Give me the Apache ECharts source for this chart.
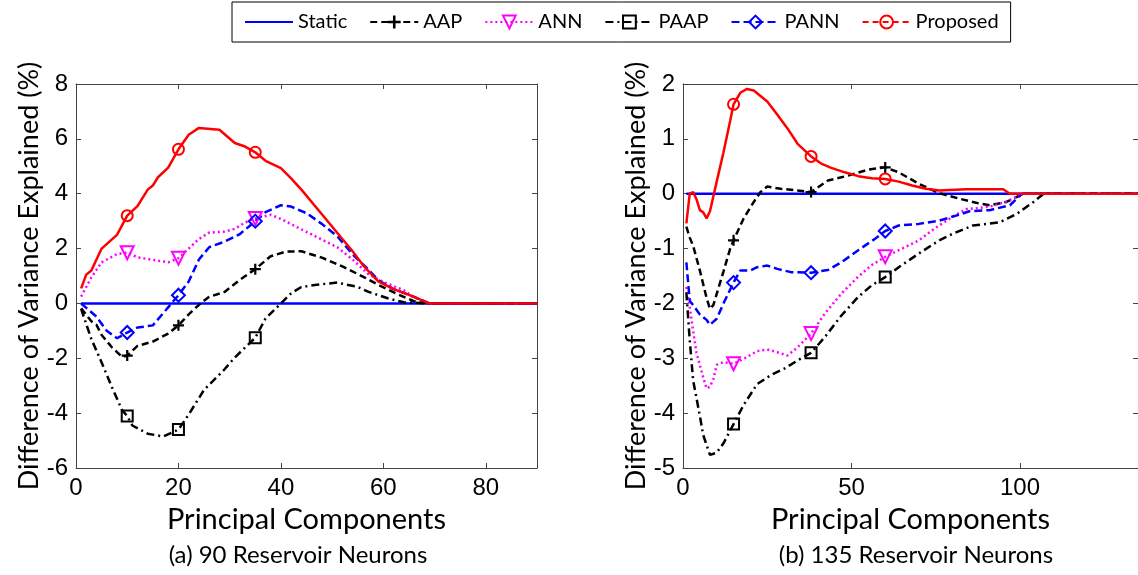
<!DOCTYPE html>
<html>
<head>
<meta charset="utf-8">
<script src="https://cdn.jsdelivr.net/npm/echarts@6/dist/echarts.min.js"></script>
<style>
html, body { margin: 0; background: #fff; }
#chart { width: 1138px; height: 575px; }
</style>
</head>
<body>
<div id="chart"></div>
<script>
// legend / series names
const seriesNames = ['Static', 'AAP', 'ANN', 'PAAP', 'PANN', 'Proposed'];

// x positions that carry a marker
const markX90 = [10, 20, 35];
const markX135 = [15, 38, 60];

// (a) 90 reservoir neurons: [principal component, difference %]
const static90 = [[1, 0], [90, 0]];
const aap90 = [[1, -0.18], [3, -0.65], [4, -0.78], [5, -1.15], [7, -1.6], [9, -1.95], [10, -1.9], [12, -1.55], [15, -1.39], [18, -1.1], [20, -0.8], [22, -0.4], [24, -0.05], [26, 0.24], [29, 0.42], [32, 0.86], [35, 1.25], [38, 1.72], [41, 1.89], [44, 1.9], [48, 1.67], [52, 1.35], [56, 0.98], [59, 0.68], [63, 0.32], [66, 0.08], [69, 0], [90, 0]];
const ann90 = [[1, 0.25], [3, 0.95], [5, 1.5], [8, 1.8], [10, 1.85], [12, 1.68], [14, 1.62], [18, 1.5], [20, 1.65], [22, 2.0], [24, 2.35], [26, 2.58], [29, 2.62], [31, 2.72], [33, 2.95], [35, 3.1], [38, 3.23], [40, 3.08], [44, 2.7], [48, 2.33], [51, 2.05], [54, 1.6], [57, 1.08], [60, 0.78], [64, 0.48], [66, 0.22], [69, 0], [90, 0]];
const paap90 = [[1, -0.2], [3, -1.3], [5, -2.15], [7, -3.05], [9, -3.9], [10, -4.1], [11, -4.45], [14, -4.75], [17, -4.85], [20, -4.6], [22, -4.05], [25, -3.15], [29, -2.4], [31, -1.97], [35, -1.25], [37, -0.55], [40, 0], [42, 0.37], [44, 0.6], [47, 0.68], [51, 0.76], [55, 0.6], [57, 0.43], [61, 0.18], [64, 0.04], [69, 0], [90, 0]];
const pann90 = [[1, 0], [4, -0.48], [6, -1.0], [8, -1.27], [10, -1.06], [12, -0.88], [15, -0.8], [17, -0.36], [20, 0.3], [22, 0.8], [24, 1.6], [26, 2.05], [29, 2.25], [32, 2.53], [35, 3.0], [37, 3.33], [40, 3.58], [42, 3.53], [45, 3.29], [48, 2.9], [51, 2.45], [54, 1.79], [57, 1.25], [59, 0.85], [62, 0.52], [66, 0.24], [69, 0], [90, 0]];
const proposed90 = [[1, 0.55], [2, 1.05], [3, 1.2], [5, 2.0], [8, 2.5], [10, 3.2], [12, 3.55], [14, 4.15], [15, 4.3], [16, 4.6], [18, 4.95], [20, 5.62], [22, 6.15], [24, 6.4], [28, 6.33], [31, 5.85], [33, 5.72], [35, 5.51], [37, 5.2], [40, 4.93], [42, 4.56], [44, 4.15], [48, 3.25], [52, 2.35], [54, 1.9], [56, 1.4], [59, 0.8], [62, 0.52], [65, 0.31], [69, 0], [90, 0]];

// (b) 135 reservoir neurons
const static135 = [[1, 0], [135, 0]];
const aap135 = [[1, -0.6], [2, -0.8], [3, -0.95], [5, -1.4], [7, -1.9], [8, -2.1], [9, -2.03], [12, -1.42], [14, -1.0], [15, -0.85], [18, -0.45], [21, -0.15], [23, 0.03], [25, 0.13], [29, 0.09], [34, 0.06], [38, 0.03], [43, 0.24], [49, 0.33], [55, 0.44], [60, 0.48], [64, 0.39], [70, 0.18], [76, 0.01], [82, -0.09], [88, -0.18], [91, -0.21], [96, -0.15], [100, -0.03], [101, 0], [135, 0]];
const ann135 = [[1, -1.7], [2, -2.07], [3, -2.5], [4, -2.9], [6, -3.35], [7, -3.55], [8, -3.52], [9, -3.38], [10, -3.12], [12, -3.07], [15, -3.1], [18, -3.01], [22, -2.87], [25, -2.84], [28, -2.89], [31, -2.95], [34, -2.8], [38, -2.55], [42, -2.19], [47, -1.82], [52, -1.51], [56, -1.3], [60, -1.15], [64, -1.03], [70, -0.85], [75, -0.62], [80, -0.42], [84, -0.28], [88, -0.26], [92, -0.22], [96, -0.14], [100, -0.03], [101, 0], [135, 0]];
const paap135 = [[1, -1.8], [2, -2.67], [3, -3.4], [5, -4.05], [6, -4.4], [8, -4.76], [10, -4.72], [12, -4.55], [15, -4.2], [18, -3.85], [22, -3.47], [26, -3.31], [30, -3.19], [34, -3.04], [38, -2.9], [42, -2.62], [47, -2.22], [52, -1.88], [56, -1.67], [60, -1.52], [64, -1.34], [70, -1.09], [76, -0.85], [80, -0.73], [86, -0.58], [94, -0.52], [99, -0.37], [104, -0.15], [107, 0], [135, 0]];
const pann135 = [[1, -1.25], [2, -1.95], [3, -2.03], [5, -2.2], [7, -2.3], [8, -2.39], [10, -2.28], [12, -2.0], [15, -1.62], [17, -1.4], [20, -1.4], [22, -1.34], [25, -1.31], [28, -1.37], [32, -1.43], [38, -1.44], [43, -1.39], [47, -1.25], [52, -1.03], [57, -0.82], [60, -0.68], [64, -0.58], [70, -0.55], [76, -0.49], [81, -0.4], [85, -0.32], [91, -0.3], [97, -0.21], [100, -0.03], [101, 0], [135, 0]];
const proposed135 = [[1, -0.54], [2, 0.0], [3, 0.03], [4, -0.1], [5, -0.3], [6, -0.34], [7, -0.45], [8, -0.32], [9, -0.05], [10, 0.22], [12, 0.75], [14, 1.33], [15, 1.63], [17, 1.84], [19, 1.91], [21, 1.88], [25, 1.68], [28, 1.44], [31, 1.19], [34, 0.91], [38, 0.68], [41, 0.55], [44, 0.47], [48, 0.39], [52, 0.32], [56, 0.28], [60, 0.27], [64, 0.22], [68, 0.15], [72, 0.09], [76, 0.06], [84, 0.08], [95, 0.08], [97, 0], [135, 0]];

const titles = ['(a) 90 Reservoir Neurons', '(b) 135 Reservoir Neurons'];

const calibri = 'Lato, "Noto Sans", sans-serif';
const arial = '"Liberation Sans", Arial, sans-serif';
const frameColor = '#444';
const plus = 'path://M4,0H6V4H10V6H6V10H4V6H0V4H4Z';

// look of each series, matlab style
const looks = {
    Static: { color: '#0000ff', type: 'solid', symbol: 'none', size: 0 },
    AAP: { color: '#000000', type: [7, 4], symbol: plus, size: 11, fill: '#000000' },
    ANN: { color: '#ff00ff', type: [2, 3], symbol: 'triangle', size: 13, rotate: 180 },
    PAAP: { color: '#000000', type: [8, 4, 2, 4], symbol: 'rect', size: 11 },
    PANN: { color: '#0000ff', type: [8, 4], symbol: 'diamond', size: 13 },
    Proposed: { color: '#ff0000', type: 'solid', symbol: 'circle', size: 11 }
};

function makeSeries(name, data, axisIdx, marks) {
    const lk = looks[name];
    return {
        name,
        type: 'line',
        xAxisIndex: axisIdx,
        yAxisIndex: axisIdx,
        data,
        symbol: lk.symbol,
        symbolRotate: lk.rotate || 0,
        symbolSize: val => (marks.indexOf(val[0]) >= 0 ? lk.size : 0),
        showSymbol: lk.symbol !== 'none',
        animation: false,
        lineStyle: { color: lk.color, width: 2.5, type: lk.type },
        itemStyle: {
            color: lk.fill || 'rgba(0,0,0,0)',
            borderColor: lk.color,
            borderWidth: lk.fill ? 0 : 2
        },
        emphasis: { disabled: true }
    };
}

function xAxes(gridIdx, max, interval) {
    return [
        {
            gridIndex: gridIdx, type: 'value', min: 0, max, interval, position: 'bottom',
            name: 'Principal Components', nameLocation: 'middle', nameGap: 33,
            nameTextStyle: { fontFamily: calibri, fontSize: 29, color: '#000' },
            axisLine: { onZero: false, lineStyle: { color: frameColor, width: 1 } },
            axisTick: { inside: true, length: 5, lineStyle: { color: frameColor } },
            axisLabel: { fontFamily: arial, fontSize: 24, color: '#000', margin: 8, showMaxLabel: false },
            splitLine: { show: false }
        },
        {
            gridIndex: gridIdx, type: 'value', min: 0, max, interval, position: 'top',
            axisLine: { onZero: false, lineStyle: { color: frameColor, width: 1 } },
            axisTick: { inside: true, length: 5, lineStyle: { color: frameColor } },
            axisLabel: { show: false },
            splitLine: { show: false }
        }
    ];
}

function yAxes(gridIdx, min, max, interval, gap) {
    return [
        {
            gridIndex: gridIdx, type: 'value', min, max, interval, position: 'left',
            name: 'Difference of Variance Explained (%)', nameLocation: 'middle', nameGap: gap,
            nameTextStyle: { fontFamily: calibri, fontSize: 27, color: '#000' },
            axisLine: { show: true, onZero: false, lineStyle: { color: frameColor, width: 1 } },
            axisTick: { show: true, inside: true, length: 5, lineStyle: { color: frameColor } },
            axisLabel: { fontFamily: arial, fontSize: 24, color: '#000', margin: 8 },
            splitLine: { show: false }
        },
        {
            gridIndex: gridIdx, type: 'value', min, max, interval, position: 'right',
            axisLine: { show: true, onZero: false, lineStyle: { color: frameColor, width: 1 } },
            axisTick: { show: true, inside: true, length: 5, lineStyle: { color: frameColor } },
            axisLabel: { show: false },
            splitLine: { show: false }
        }
    ];
}

const data90 = [static90, aap90, ann90, paap90, pann90, proposed90];
const data135 = [static135, aap135, ann135, paap135, pann135, proposed135];

const series = [];
seriesNames.forEach((n, i) => series.push(makeSeries(n, data90[i], 0, markX90)));
seriesNames.forEach((n, i) => series.push(makeSeries(n, data135[i], 2, markX135)));

const legendItems = seriesNames.map(n => {
    if (n === 'Static') return { name: n, itemStyle: { color: 'rgba(0,0,0,0)', borderWidth: 0, opacity: 0 } };
    if (n === 'Proposed') return { name: n, lineStyle: { type: [6, 4] } };
    return n;
});

const chart = echarts.init(document.getElementById('chart'), null, { renderer: 'canvas' });
chart.setOption({
    backgroundColor: '#fff',
    animation: false,
    legend: {
        left: 232,
        top: 2,
        padding: [10, 12, 10, 12],
        itemGap: 22,
        itemWidth: 48,
        itemHeight: 16,
        borderColor: '#000',
        borderWidth: 1,
        selectedMode: false,
        textStyle: { fontFamily: calibri, fontSize: 20, color: '#000' },
        data: legendItems
    },
    grid: [
        { left: 76, right: 601, top: 84, bottom: 107 },
        { left: 683, right: -4, top: 84, bottom: 107 }
    ],
    xAxis: [...xAxes(0, 90, 20), ...xAxes(1, 135, 50)],
    yAxis: [...yAxes(0, -6, 8, 2, 33), ...yAxes(1, -5, 2, 1, 31)],
    graphic: [
        { type: 'text', x: 298, y: 555, style: { text: titles[0], font: '24px ' + calibri, fill: '#000', align: 'center', verticalAlign: 'middle' } },
        { type: 'text', x: 916, y: 555, style: { text: titles[1], font: '24px ' + calibri, fill: '#000', align: 'center', verticalAlign: 'middle' } }
    ],
    series
});
</script>
</body>
</html>
